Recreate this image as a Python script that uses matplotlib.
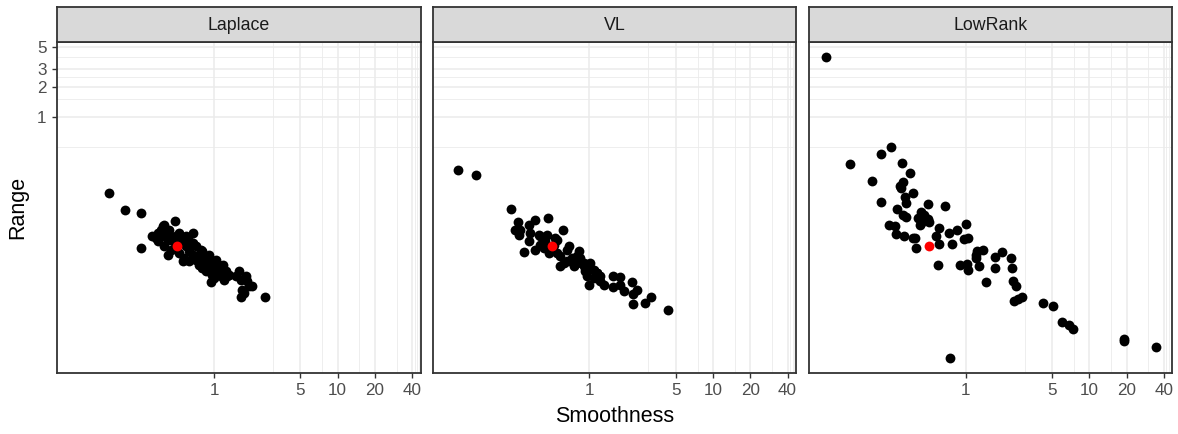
import numpy as np
import matplotlib
matplotlib.use("Agg")
import matplotlib.pyplot as plt
from matplotlib.ticker import FixedLocator, FixedFormatter, NullFormatter

plt.rcParams['font.family'] = ['Liberation Sans', 'DejaVu Sans']

panels = ["Laplace", "VL", "LowRank"]

laplace_x = [0.142, 0.191, 0.256, 0.485, 0.395, 0.670, 0.315, 0.256, 0.372, 0.350,
             0.421, 0.556, 0.781, 0.711, 0.857, 1.03, 0.911, 0.941, 1.13, 1.32,
             1.59, 1.64, 1.86, 2.04, 1.64, 2.58, 1.69, 0.339, 0.434, 0.462,
             0.522, 0.591, 0.629, 0.670, 0.711, 0.757, 0.805, 0.857, 0.970, 1.06,
             0.522, 0.573, 0.629, 0.448, 0.395, 0.556, 0.491, 0.670, 0.757, 0.857,
             0.941, 1.00, 1.13, 1.20, 1.28, 1.50, 1.80, 1.91, 1.75, 0.384,
             0.350, 0.421, 0.805, 0.911, 1.00, 1.10,
             0.384, 0.434, 0.522, 0.591, 0.629, 0.711, 0.805, 0.911, 1.03, 1.17,
             1.03, 1.24]
laplace_y = [0.174, 0.117, 0.108, 0.0899, 0.0826, 0.0682, 0.0641, 0.0483, 0.0736, 0.0562,
             0.0414, 0.0355, 0.0464, 0.0398, 0.0342, 0.0342, 0.0293, 0.0219, 0.0251, 0.0261,
             0.0282, 0.0233, 0.0224, 0.0200, 0.0156, 0.0156, 0.0185, 0.0608, 0.0656, 0.0562,
             0.0542, 0.0501, 0.0447, 0.0414, 0.0369, 0.0329, 0.0305, 0.0282, 0.0261, 0.0293,
             0.0431, 0.0384, 0.0355, 0.0464, 0.0501, 0.0585, 0.0631, 0.0542, 0.0384, 0.0369,
             0.0316, 0.0242, 0.0272, 0.0233, 0.0251, 0.0251, 0.0251, 0.0200, 0.0171, 0.0794,
             0.0682, 0.0585, 0.0414, 0.0384, 0.0355, 0.0329,
             0.0631, 0.0736, 0.0682, 0.0631, 0.0562, 0.0501, 0.0447, 0.0414, 0.0369, 0.0329,
             0.0305, 0.0282]

vl_x = [0.0868, 0.121, 0.232, 0.462, 4.29, 2.24, 2.81, 3.13, 0.610, 0.294,
        0.263, 0.248, 0.267, 0.322, 0.365, 0.329, 0.322, 0.388, 0.453, 0.529,
        0.365, 0.426, 0.677, 0.581, 0.581, 0.657, 0.815, 0.791, 0.841, 1.01,
        0.923, 1.08, 0.982, 1.22, 1.30, 1.08, 0.953, 1.54, 1.77, 1.56,
        1.91, 2.20, 2.41, 2.24, 1.77, 0.721, 0.617, 0.743, 0.895, 0.513,
        0.440, 0.400, 0.467, 0.546, 1.15, 1.22, 0.276,
        0.400, 0.546, 0.657, 0.791, 0.895, 1.01, 1.15, 0.699]
vl_y = [0.293, 0.261, 0.119, 0.0964, 0.0114, 0.0131, 0.0134, 0.0155, 0.0724, 0.0437,
        0.0871, 0.0736, 0.0656, 0.0826, 0.0912, 0.0682, 0.0562, 0.0656, 0.0656, 0.0608,
        0.0464, 0.0483, 0.0501, 0.0398, 0.0316, 0.0355, 0.0447, 0.0342, 0.0384, 0.0342,
        0.0282, 0.0293, 0.0207, 0.0251, 0.0204, 0.0242, 0.0251, 0.0255, 0.0245, 0.0197,
        0.0178, 0.0219, 0.0185, 0.0165, 0.0207, 0.0384, 0.0342, 0.0316, 0.0316, 0.0521,
        0.0562, 0.0521, 0.0431, 0.0431, 0.0272, 0.0224, 0.0736,
        0.0631, 0.0585, 0.0464, 0.0398, 0.0342, 0.0305, 0.0272, 0.0355]

lowrank_x = [0.0733, 0.115, 0.206, 0.248, 0.303, 0.175, 0.353, 0.312, 0.299, 0.372,
             0.324, 0.207, 0.328, 0.491, 0.681, 0.278, 0.309, 0.328, 0.434, 0.408,
             0.491, 0.506, 0.426, 0.238, 0.269, 0.272, 0.315, 0.372, 0.390, 0.395,
             0.610, 0.573, 0.603, 0.725, 0.846, 0.771, 1.00, 0.969, 1.05, 0.598,
             0.900, 1.03, 1.05, 1.27, 1.20, 1.24, 1.39, 1.47, 1.71, 1.72,
             1.98, 2.31, 2.38, 2.41, 2.56, 2.45, 2.66, 2.83, 4.23, 5.10,
             6.02, 6.81, 7.33, 19.1, 19.1, 34.5, 0.747, 0.456, 0.294, 0.434,
             1.20]
lowrank_y = [3.98, 0.339, 0.421, 0.494, 0.347, 0.229, 0.274, 0.224, 0.192, 0.174,
             0.158, 0.139, 0.136, 0.134, 0.126, 0.119, 0.104, 0.0986, 0.111, 0.0964,
             0.0948, 0.0879, 0.0813, 0.0826, 0.0794, 0.0667, 0.0631, 0.0608, 0.0608, 0.0479,
             0.0759, 0.0641, 0.0530, 0.0682, 0.0736, 0.0533, 0.0845, 0.0594, 0.0608, 0.0324,
             0.0329, 0.0337, 0.0288, 0.0321, 0.0414, 0.0447, 0.0464, 0.0221, 0.0389, 0.0305,
             0.0441, 0.0386, 0.0302, 0.0224, 0.0200, 0.0141, 0.0150, 0.0156, 0.0136, 0.0126,
             0.00879, 0.00807, 0.00748, 0.00562, 0.00585, 0.00494, 0.00378, 0.104, 0.203, 0.0859,
             0.0384]

highlight_x = 0.5
highlight_y = 0.05

x_breaks = [1, 5, 10, 20, 40]
x_labels = ["1", "5", "10", "20", "40"]
x_minor = [3, 7.5, 15, 30, 42, 44, 45.5]
y_breaks = [1, 2, 3, 5]
y_labels = ["1", "2", "3", "5"]
y_minor = [0.5, 1.5, 2.5, 4]

data = {
    "Laplace": (laplace_x, laplace_y),
    "VL": (vl_x, vl_y),
    "LowRank": (lowrank_x, lowrank_y),
}

# shared limits with 5% expansion in log space
all_x = np.log10(np.concatenate([laplace_x, vl_x, lowrank_x]))
all_y = np.log10(np.concatenate([laplace_y, vl_y, lowrank_y]))
def expand(v):
    lo, hi = v.min(), v.max()
    d = (hi - lo) * 0.05
    return 10 ** (lo - d), 10 ** (hi + d)
xlim = expand(all_x)
ylim = expand(all_y)

W, H = 1178, 434
fig = plt.figure(figsize=(W / 100, H / 100), dpi=100)

panel_lefts = [57.3, 432.7, 809.0]
panel_w = 363.4
panel_top = 42.0
panel_bot = 373.3
strip_top = 6.7

border_col = "#333333"
grid_col = "#EBEBEB"

for i, name in enumerate(panels):
    l = panel_lefts[i]
    ax = fig.add_axes([l / W, (H - panel_bot) / H, panel_w / W, (panel_bot - panel_top) / H])
    ax.set_xscale("log")
    ax.set_yscale("log")
    ax.set_xlim(*xlim)
    ax.set_ylim(*ylim)
    ax.set_facecolor("white")
    for v in x_minor:
        ax.axvline(v, color=grid_col, lw=0.6, zorder=0)
    for v in y_minor:
        ax.axhline(v, color=grid_col, lw=0.6, zorder=0)
    for v in x_breaks:
        ax.axvline(v, color=grid_col, lw=1.1, zorder=0.5)
    for v in y_breaks:
        ax.axhline(v, color=grid_col, lw=1.1, zorder=0.5)
    xs, ys = data[name]
    ax.scatter(xs, ys, s=50, color="black", linewidths=0, zorder=3)
    ax.scatter([highlight_x], [highlight_y], s=50, color="#FF0000", linewidths=0, zorder=4)

    ax.xaxis.set_major_locator(FixedLocator(x_breaks))
    ax.xaxis.set_major_formatter(FixedFormatter(x_labels))
    ax.xaxis.set_minor_locator(FixedLocator([]))
    ax.xaxis.set_minor_formatter(NullFormatter())
    ax.yaxis.set_major_locator(FixedLocator(y_breaks))
    ax.yaxis.set_minor_locator(FixedLocator([]))
    ax.yaxis.set_minor_formatter(NullFormatter())
    if i == 0:
        ax.yaxis.set_major_formatter(FixedFormatter(y_labels))
        ax.tick_params(axis="y", length=3.6, width=1.0, color=border_col,
                       labelcolor="#4D4D4D", labelsize=12.3, pad=4)
    else:
        ax.tick_params(axis="y", left=False, labelleft=False)
    ax.tick_params(axis="x", length=3.6, width=1.0, color=border_col,
                   labelcolor="#4D4D4D", labelsize=12.3, pad=3.5)
    for sp in ax.spines.values():
        sp.set_color(border_col)
        sp.set_linewidth(1.3)
        sp.set_zorder(5)

    sax = fig.add_axes([l / W, (H - panel_top) / H, panel_w / W, (panel_top - strip_top) / H])
    sax.set_facecolor("#D9D9D9")
    sax.set_xticks([])
    sax.set_yticks([])
    for sp in sax.spines.values():
        sp.set_color(border_col)
        sp.set_linewidth(1.3)
    sax.text(0.5, 0.47, name, transform=sax.transAxes, ha="center", va="center",
             fontsize=12.8, color="#1A1A1A")

fig.text(614.8 / W, 11.5 / H, "Smoothness", ha="center", va="baseline",
         fontsize=15.5, color="black")
fig.text(18 / W, (H - 207.7) / H, "Range", ha="center", va="center",
         rotation=90, fontsize=15.5, color="black")

fig.savefig("out.png", dpi=100)
